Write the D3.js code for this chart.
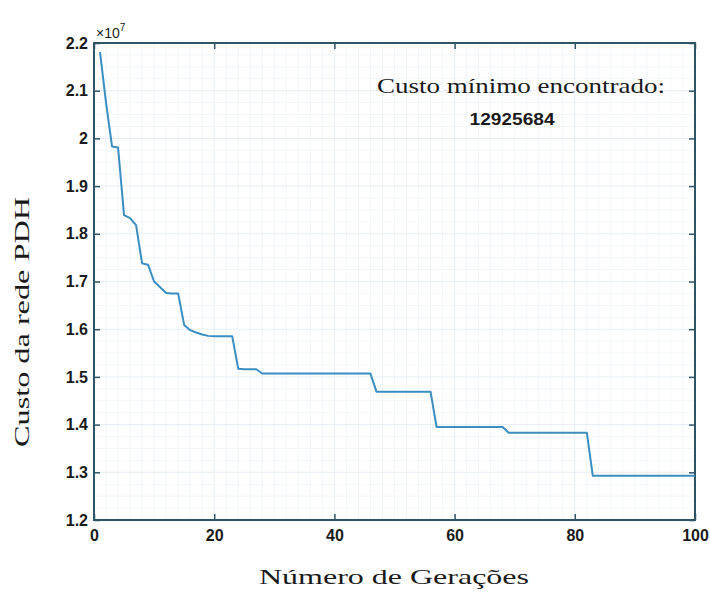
<!DOCTYPE html>
<html>
<head>
<meta charset="utf-8">
<script src="https://cdn.jsdelivr.net/npm/d3@7"></script>
<style>
  html, body { margin: 0; padding: 0; background: #fff; }
</style>
</head>
<body>
<div id="chart"></div>
<script>
// custo por geração, em unidades de 10^7
var custo = [
  2.181, 2.075, 1.983, 1.981, 1.839, 1.833, 1.818, 1.738, 1.735, 1.700,
  1.688, 1.676, 1.675, 1.675, 1.609, 1.598, 1.593, 1.589, 1.586, 1.585,
  1.585, 1.585, 1.585, 1.517, 1.516, 1.516, 1.516, 1.507, 1.507, 1.507,
  1.507, 1.507, 1.507, 1.507, 1.507, 1.507, 1.507, 1.507, 1.507, 1.507,
  1.507, 1.507, 1.507, 1.507, 1.507, 1.507, 1.469, 1.469, 1.469, 1.469,
  1.469, 1.469, 1.469, 1.469, 1.469, 1.469, 1.395, 1.395, 1.395, 1.395,
  1.395, 1.395, 1.395, 1.395, 1.395, 1.395, 1.395, 1.395, 1.383, 1.383,
  1.383, 1.383, 1.383, 1.383, 1.383, 1.383, 1.383, 1.383, 1.383, 1.383,
  1.383, 1.383, 1.2925684, 1.2925684, 1.2925684, 1.2925684, 1.2925684, 1.2925684, 1.2925684, 1.2925684,
  1.2925684, 1.2925684, 1.2925684, 1.2925684, 1.2925684, 1.2925684, 1.2925684, 1.2925684, 1.2925684, 1.2925684
];
var geracoes = d3.range(1, custo.length + 1);
var xTicks = [0, 20, 40, 60, 80, 100];
var yTicks = [1.2, 1.3, 1.4, 1.5, 1.6, 1.7, 1.8, 1.9, 2, 2.1, 2.2];
var minimo = "12925684";

var W = 710, H = 592;
var m = {left: 94, top: 43, right: 15, bottom: 72};
var w = W - m.left - m.right, h = H - m.top - m.bottom;
var axisColor = "#2f5466";

var svg = d3.select("#chart").append("svg").attr("width", W).attr("height", H)
  .style("font-family", "'Liberation Sans', Arial, sans-serif");

var g = svg.append("g").attr("transform", "translate(" + m.left + "," + m.top + ")");

var x = d3.scaleLinear().domain([0, 100]).range([0, w]);
var y = d3.scaleLinear().domain([1.2, 2.2]).range([h, 0]);

// grade menor e maior (bem clara)
g.append("g").selectAll("line.vx").data(d3.range(0, 101, 2)).enter().append("line")
  .attr("x1", function(d){return x(d)}).attr("x2", function(d){return x(d)})
  .attr("y1", 0).attr("y2", h)
  .attr("stroke", function(d){return d % 20 == 0 ? "#e7eef4" : "#f2f6fa"}).attr("stroke-width", 1);
g.append("g").selectAll("line.hy").data(d3.range(0, 41)).enter().append("line")
  .attr("y1", function(d){return y(1.2 + d * 0.025)}).attr("y2", function(d){return y(1.2 + d * 0.025)})
  .attr("x1", 0).attr("x2", w)
  .attr("stroke", function(d){return d % 4 == 0 ? "#e7eef4" : "#f2f6fa"}).attr("stroke-width", 1);

// eixos com ticks para dentro
var xAxis = g.append("g").attr("transform", "translate(0," + h + ")")
  .call(d3.axisBottom(x).tickValues(xTicks).tickSize(-6).tickSizeOuter(0).tickPadding(10));
var yAxis = g.append("g")
  .call(d3.axisLeft(y).tickValues(yTicks).tickSize(-6).tickSizeOuter(0).tickPadding(6)
    .tickFormat(function(d){return d3.format("")(+d.toFixed(1))}));
var topAxis = g.append("g")
  .call(d3.axisTop(x).tickValues(xTicks).tickSize(-6).tickSizeOuter(0).tickFormat(""));
var rightAxis = g.append("g").attr("transform", "translate(" + w + ",0)")
  .call(d3.axisRight(y).tickValues(yTicks).tickSize(-6).tickSizeOuter(0).tickFormat(""));

[xAxis, yAxis, topAxis, rightAxis].forEach(function(a){
  a.select(".domain").remove();
  a.selectAll(".tick line").attr("stroke", axisColor).attr("stroke-width", 1.5);
  a.selectAll(".tick text").attr("fill", "#1a1a1a").style("font-size", "16px").style("font-weight", "bold");
});

g.append("rect").attr("x", 0).attr("y", 0).attr("width", w).attr("height", h)
  .attr("fill", "none").attr("stroke", axisColor).attr("stroke-width", 2);

// curva de custo
var line = d3.line()
  .x(function(d, i){return x(geracoes[i])})
  .y(function(d){return y(d)});
g.append("path").datum(custo)
  .attr("d", line)
  .attr("fill", "none")
  .attr("stroke", "#3a8ec0")
  .attr("stroke-width", 2)
  .attr("stroke-linejoin", "round");

// multiplicador x10^7
var mult = svg.append("text").attr("x", 96).attr("y", 38).attr("fill", "#1a1a1a").style("font-size", "14px");
mult.append("tspan").text("\u00d710");
mult.append("tspan").attr("dy", -7).style("font-size", "10px").text("7");

// títulos dos eixos
var serif = "'Liberation Serif', 'Times New Roman', serif";
svg.append("text").attr("x", 394).attr("y", 584).attr("text-anchor", "middle")
  .style("font-family", serif).style("font-size", "21px").attr("fill", "#1a1a1a")
  .attr("textLength", 270).attr("lengthAdjust", "spacingAndGlyphs")
  .text("Número de Gerações");
svg.append("text").attr("transform", "translate(29,322) rotate(-90)").attr("text-anchor", "middle")
  .style("font-family", serif).style("font-size", "21px").attr("fill", "#1a1a1a")
  .attr("textLength", 250).attr("lengthAdjust", "spacingAndGlyphs")
  .text("Custo da rede PDH");

// anotação
svg.append("text").attr("x", 521).attr("y", 93).attr("text-anchor", "middle")
  .style("font-family", serif).style("font-size", "22px").attr("fill", "#1a1a1a")
  .attr("textLength", 288).attr("lengthAdjust", "spacingAndGlyphs")
  .text("Custo mínimo encontrado:");
svg.append("text").attr("x", 512).attr("y", 125).attr("text-anchor", "middle")
  .style("font-size", "16px").style("font-weight", "bold").attr("fill", "#1a1a1a")
  .attr("textLength", 85).attr("lengthAdjust", "spacingAndGlyphs")
  .text(minimo);
</script>
</body>
</html>
